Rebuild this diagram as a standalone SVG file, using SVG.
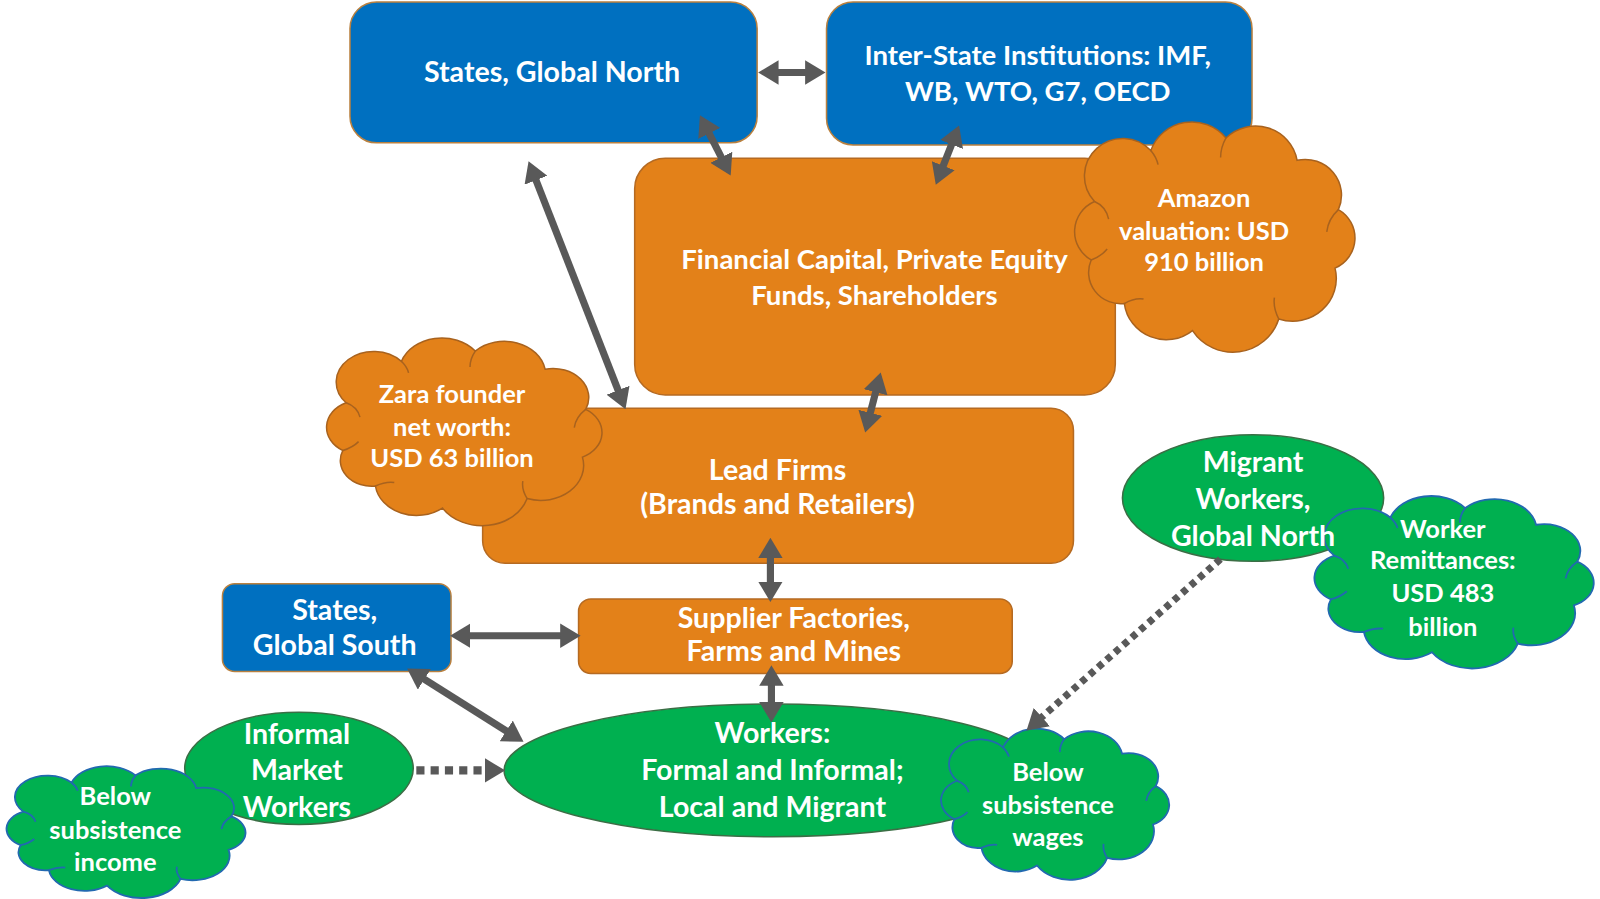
<svg xmlns="http://www.w3.org/2000/svg" width="1600" height="899" viewBox="0 0 1600 899">
<style>
.blue{fill:#0070C0;stroke:#B9803F;stroke-width:1.5}
.orange{fill:#E38119;stroke:#B56A22;stroke-width:1.5}
.green{fill:#00B050;stroke:#3B6E45;stroke-width:1.5}
.ocloud{fill:#E38119;stroke:#A8621E;stroke-width:1.5}
.gcloud{fill:#00B050;stroke:#2269B0;stroke-width:1.8}
.t{font-family:Lato,"Open Sans","Liberation Sans",sans-serif;font-weight:700;fill:#fff;text-anchor:middle;font-size:28px}
.tm{font-size:27px}
.ts{font-size:25px}
.arr{stroke:#595959;stroke-width:7;fill:none}
.dot{stroke:#595959;fill:none}
</style>
<defs>
<marker id="ah" viewBox="0 0 20 24" refX="6" refY="12" markerWidth="20" markerHeight="24" markerUnits="userSpaceOnUse" orient="auto-start-reverse">
<path d="M0,0 L20,12 L0,24 Z" fill="#595959"/>
</marker>
<path id="cloud" vector-effect="non-scaling-stroke" d="M17.3,56.7 A23,23 0 0 1 56,21.1 A30,30 0 0 1 107.7,12.3 A29,29 0 0 1 156.6,27.9 A25,25 0 0 1 185,62.4 A23,23 0 0 1 182.7,103.3 A30,30 0 0 1 144,138.9 A33,33 0 0 1 84.7,147 A29,29 0 0 1 37.8,128.1 A22,22 0 0 1 15,97.6 A23,23 0 0 1 17.3,56.7 Z"/>
<path id="cloudin" vector-effect="non-scaling-stroke" fill="none" d="M17.3,56.7 Q25,60 27,69 M56,21.1 Q60,26 61,31 M107.7,12.3 Q104,19 104,26 M185,62.4 Q178,69 177,78 M144,138.9 Q140,131 141,124 M37.8,128.1 Q45,124 51,125 M15,97.6 Q22,95 26,90"/>
</defs>
<g transform="scale(1.0204)">
<g id="states-global-north">
<rect class="blue" x="343" y="2" width="399" height="138" rx="26"/>
<text class="t" x="541" y="80">States, Global North</text>
</g>
<g id="inter-state-institutions">
<rect class="blue" x="810" y="2" width="417" height="140" rx="26"/>
<text class="t tm" x="1017" y="64">Inter-State Institutions: IMF,</text>
<text class="t tm" x="1017" y="99">WB, WTO, G7, OECD</text>
</g>
<g id="financial-capital">
<rect class="orange" x="622" y="155" width="471" height="232" rx="30"/>
<text class="t tm" x="857" y="264">Financial Capital, Private Equity</text>
<text class="t tm" x="857" y="299">Funds, Shareholders</text>
</g>
<g id="amazon-cloud">
<use href="#cloud" class="ocloud" transform="translate(1048,118) scale(1.425,1.401)"/>
<use href="#cloudin" stroke="#A8621E" stroke-width="1.5" transform="translate(1048,118) scale(1.425,1.401)"/>
<text class="t ts" x="1180" y="203">Amazon</text>
<text class="t ts" x="1180" y="235">valuation: USD</text>
<text class="t ts" x="1180" y="266">910 billion</text>
</g>
<g id="lead-firms">
<rect class="orange" x="473" y="400" width="579" height="152" rx="22"/>
<text class="t" x="762" y="470">Lead Firms</text>
<text class="t" x="762" y="504">(Brands and Retailers)</text>
</g>
<g id="zara-cloud">
<use href="#cloud" class="ocloud" transform="translate(315,330) scale(1.4,1.142)"/>
<use href="#cloudin" stroke="#A8621E" stroke-width="1.5" transform="translate(315,330) scale(1.4,1.142)"/>
<text class="t ts" x="443" y="395">Zara founder</text>
<text class="t ts" x="443" y="427">net worth:</text>
<text class="t ts" x="443" y="458">USD 63 billion</text>
</g>
<g id="supplier-factories">
<rect class="orange" x="567" y="587" width="425" height="73" rx="12"/>
<text class="t" x="778" y="615">Supplier Factories,</text>
<text class="t" x="778" y="648">Farms and Mines</text>
</g>
<g id="states-global-south">
<rect class="blue" x="218" y="572" width="224" height="86" rx="12"/>
<text class="t" x="328" y="608">States,</text>
<text class="t" x="328" y="642">Global South</text>
</g>
<g id="workers">
<ellipse class="green" cx="757" cy="755" rx="263" ry="65"/>
<text class="t" x="757" y="728">Workers:</text>
<text class="t" x="757" y="764">Formal and Informal;</text>
<text class="t" x="757" y="801">Local and Migrant</text>
</g>
<g id="informal-market-workers">
<ellipse class="green" cx="293" cy="753" rx="112" ry="55"/>
</g>
<g id="below-subsistence-income">
<use href="#cloud" class="gcloud" transform="translate(2,750) scale(1.215,0.802)"/>
<use href="#cloudin" stroke="#2269B0" stroke-width="1.8" transform="translate(2,750) scale(1.215,0.802)"/>
<text class="t ts" x="113" y="789">Below</text>
<text class="t ts" x="113" y="822">subsistence</text>
<text class="t ts" x="113" y="854">income</text>
</g>
<g id="informal-market-workers-label">
<text class="t" x="291" y="729">Informal</text>
<text class="t" x="291" y="764">Market</text>
<text class="t" x="291" y="801">Workers</text>
</g>
<g id="migrant-workers">
<ellipse class="green" cx="1228" cy="488" rx="128" ry="62"/>
</g>
<g id="worker-remittances">
<use href="#cloud" class="gcloud" transform="translate(1283,485) scale(1.42,1.049)"/>
<use href="#cloudin" stroke="#2269B0" stroke-width="1.8" transform="translate(1283,485) scale(1.42,1.049)"/>
<text class="t ts" x="1414" y="527">Worker</text>
<text class="t ts" x="1414" y="558">Remittances:</text>
<text class="t ts" x="1414" y="590">USD 483</text>
<text class="t ts" x="1414" y="623">billion</text>
</g>
<g id="migrant-workers-label">
<text class="t" x="1228" y="463">Migrant</text>
<text class="t" x="1228" y="499">Workers,</text>
<text class="t" x="1228" y="535">Global North</text>
</g>
<g id="below-subsistence-wages">
<use href="#cloud" class="gcloud" transform="translate(918,713) scale(1.16,0.92)"/>
<use href="#cloudin" stroke="#2269B0" stroke-width="1.8" transform="translate(918,713) scale(1.16,0.92)"/>
<text class="t ts" x="1027" y="765">Below</text>
<text class="t ts" x="1027" y="798">subsistence</text>
<text class="t ts" x="1027" y="829">wages</text>
</g>

<g id="connectors">
<line class="arr" x1="757" y1="71" x2="795" y2="71" marker-start="url(#ah)" marker-end="url(#ah)"/>
<line class="arr" x1="692.3" y1="125.5" x2="709.7" y2="159.5" marker-start="url(#ah)" marker-end="url(#ah)"/>
<line class="arr" x1="934.8" y1="136" x2="922.2" y2="168" marker-start="url(#ah)" marker-end="url(#ah)"/>
<line class="arr" x1="523.1" y1="171" x2="607.9" y2="388" marker-start="url(#ah)" marker-end="url(#ah)"/>
<line class="arr" x1="859.6" y1="378.6" x2="851.4" y2="410.4" marker-start="url(#ah)" marker-end="url(#ah)"/>
<line class="arr" x1="755" y1="541" x2="755" y2="576" marker-start="url(#ah)" marker-end="url(#ah)"/>
<line class="arr" x1="455" y1="623" x2="555" y2="623" marker-start="url(#ah)" marker-end="url(#ah)"/>
<line class="arr" x1="756" y1="666" x2="756" y2="694" marker-start="url(#ah)" marker-end="url(#ah)"/>
<line class="arr" x1="410.8" y1="662.5" x2="501.2" y2="719.5" marker-start="url(#ah)" marker-end="url(#ah)"/>
<line class="dot" x1="408" y1="755" x2="481" y2="755" stroke-width="8" stroke-dasharray="8 6" marker-end="url(#ah)"/>
<line class="dot" x1="1196" y1="548" x2="1016.5" y2="706.7" stroke-width="7" stroke-dasharray="6 5" marker-end="url(#ah)"/>
</g>
</g>
</svg>
